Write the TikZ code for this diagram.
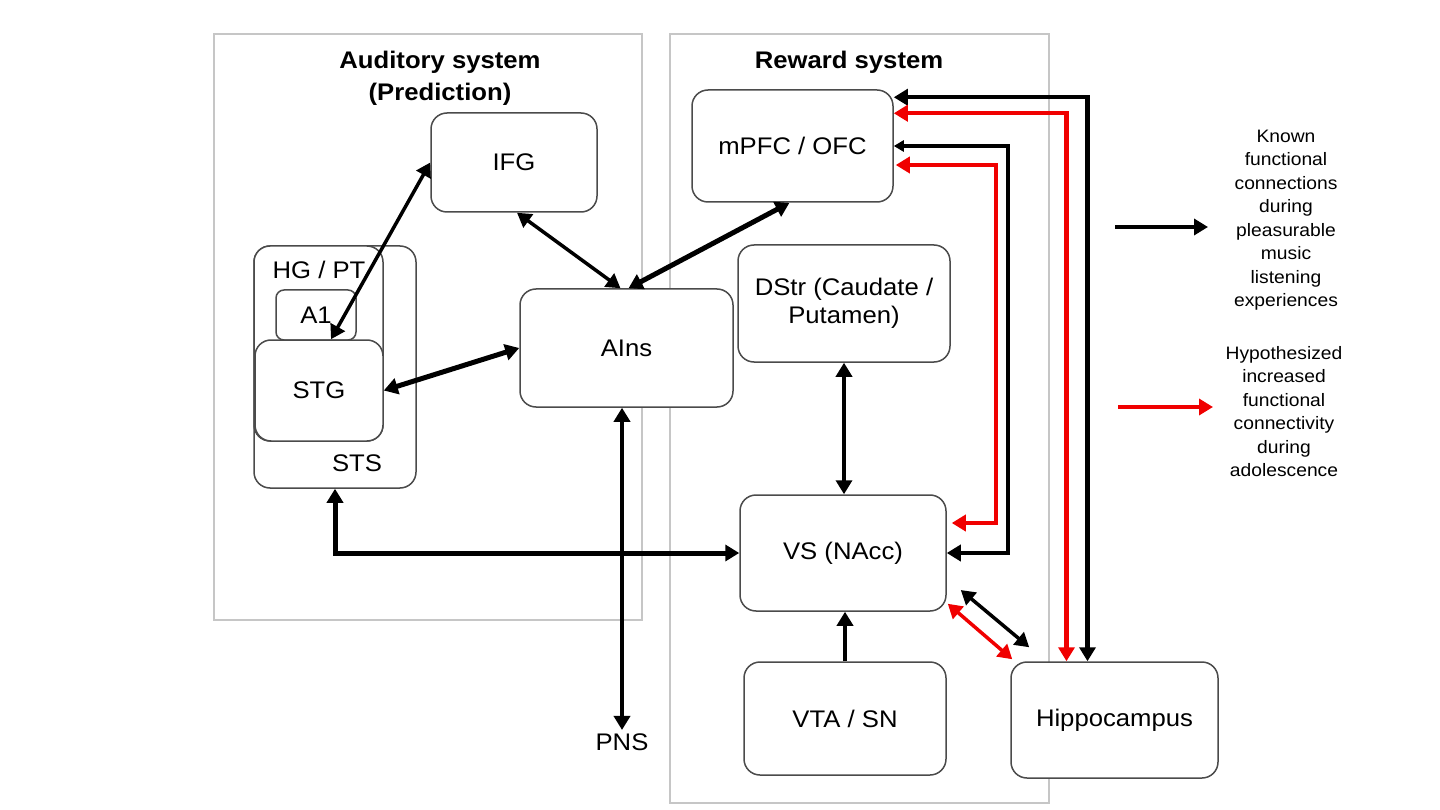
\documentclass[tikz,border=0pt]{standalone}
\usepackage{fontspec}
\setmainfont{Liberation Sans}[FakeStretch=1.07]
\usetikzlibrary{arrows.meta,calc,positioning}
\definecolor{frame}{RGB}{198,198,198}
\definecolor{boxline}{RGB}{75,75,75}
\definecolor{hypred}{RGB}{240,0,0}

\tikzset{
  region/.style={draw=boxline, line width=1.5pt, rounded corners=16pt,
                 fill=white, inner sep=0pt},
  label text/.style={font=\fontsize{24}{28}\selectfont, align=center},
  system/.style={draw=frame, line width=2.2pt},
  conn/.style={line width=4.5pt, {Triangle[length=14pt,width=16pt]}-{Triangle[length=14pt,width=16pt]}},
  oneway/.style={line width=4.5pt, -{Triangle[length=14pt,width=16pt]}},
  hypo/.style={conn, draw=hypred},
  legend/.style={font=\fontsize{18}{23.5}\selectfont, align=center},
}

\begin{document}
\begin{tikzpicture}[x=1pt,y=-1pt]
    \useasboundingbox (0,0) rectangle (1440,810);

    % the two systems
    \draw[system] (214,34) rectangle (642,620);
    \draw[system] (670,34) rectangle (1049,803);
    \node[font=\bfseries\fontsize{24}{32}\selectfont, align=center] (audtitle)
        at (440,78) {Auditory system\\(Prediction)};
    \node[font=\bfseries\fontsize{24}{32}\selectfont] (rewtitle)
        at (849,62) {Reward system};

    % auditory cortex stack
    \node[region, minimum width=162, minimum height=242] (sts) at (335,367) {};
    \node[region, minimum width=129, minimum height=195] (hgpt) at (318.5,343.5) {};
    \node[region, label text, rounded corners=8pt, minimum width=80, minimum height=50] (a1) at (316,315) {A1};
    \node[region, label text, minimum width=128, minimum height=101] (stg) at (319,390.5) {STG};
    \node[label text] (hgpttext) at (319,270) {HG / PT};
    \node[label text] (ststext) at (357,463) {STS};

    \node[region, label text, minimum width=166, minimum height=99] (ifg) at (514,162.5) {IFG};
    \node[region, label text, minimum width=213, minimum height=118] (ains) at (626.5,348) {AIns};
    \node[label text] (pns) at (622,742) {PNS};

    % reward nodes
    \node[region, label text, minimum width=201, minimum height=112] (mpfc) at (792.5,146) {mPFC / OFC};
    \node[region, label text, minimum width=212, minimum height=117] (dstr) at (844,303.5) {DStr (Caudate /\\Putamen)};
    \node[region, label text, minimum width=206, minimum height=116] (vs) at (843,553) {VS (NAcc)};
    \node[region, label text, minimum width=202, minimum height=113] (vta) at (845,718.5) {VTA / SN};
    \node[region, label text, minimum width=207, minimum height=116] (hippo) at (1114.5,720) {Hippocampus};

    % known connections
    \draw[conn, line width=3.5pt] (ifg.west) -- ([xshift=12]stg.north);
    \draw[conn, line width=3.5pt] ([xshift=3]ifg.south) -- ([xshift=-6]ains.north);
    \draw[conn, line width=5pt] ([xshift=-3]mpfc.south) -- ([xshift=2]ains.north);
    \draw[conn, line width=5pt] (stg.east) -- (ains.west);
    \draw[conn] (pns.north |- ains.south) -- (pns.north);
    \draw[conn, line width=5pt] (sts.south) |- (vs.west);
    \draw[conn] (dstr.south) -- (dstr.south |- vs.north);
    \draw[oneway] (vta.north) -- (vta.north |- vs.south);
    \draw[conn] ($(mpfc.north east)+(0,8)$) -| ($(hippo.north)+(-27,0)$);
    \draw[conn, {Triangle[length=10pt,width=11pt]}-{Triangle[length=14pt,width=16pt]}]
        (mpfc.east) -- ++(114,0) |- (vs.east);
    \draw[conn, line width=3.5pt] ($(vs.east)+(14,37)$) -- ($(hippo.north west)+(19,-14)$);

    % hypothesized connections
    \draw[hypo] ($(mpfc.north east)+(0,24)$) -| ($(hippo.north)+(-48,0)$);
    \draw[hypo] ($(mpfc.east)+(2,19)$) -- ++(100,0) |- ($(vs.east)+(5,-30)$);
    \draw[hypo, line width=3.5pt] ($(vs.south east)+(1,-8)$) -- ($(hippo.north west)+(2,-2)$);

    % legend
    \coordinate (known0) at (1115,227);
    \coordinate (known1) at (1208,227);
    \coordinate (hyp0) at (1118,407);
    \coordinate (hyp1) at (1213,407);
    \draw[oneway] (known0) -- (known1);
    \draw[oneway, draw=hypred] (hyp0) -- (hyp1);
    \node[legend] (knowntext) at (1286,220) {Known\\functional\\connections\\during\\pleasurable\\music\\listening\\experiences};
    \node[legend] (hyptext) at (1284,411.5) {Hypothesized\\increased\\functional\\connectivity\\during\\adolescence};
\end{tikzpicture}
\end{document}
